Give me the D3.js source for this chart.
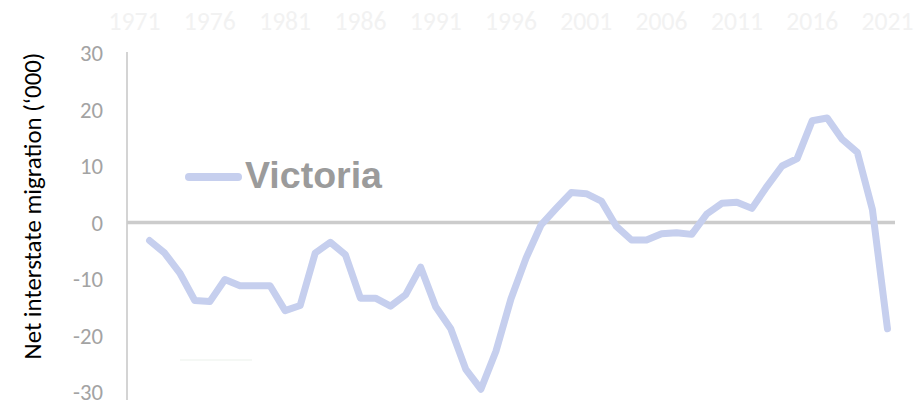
<!DOCTYPE html>
<html>
<head>
<meta charset="utf-8">
<script src="https://cdn.jsdelivr.net/npm/d3@7/dist/d3.min.js"></script>
<style>
  html, body { margin: 0; padding: 0; background: #ffffff; }
  svg { display: block; }
</style>
</head>
<body>
<svg id="chart" width="916" height="406"></svg>
<script>
// ---- data ----
const years = d3.range(1971, 2022).map(String);
const tickYears = ["1971","1976","1981","1986","1991","1996","2001","2006","2011","2016","2021"];
const victoria = [null,
  -3.2, -5.4, -8.9, -13.8, -14.0, -10.1, -11.2, -11.2, -11.2,
  -15.6, -14.7, -5.4, -3.5, -5.7, -13.4, -13.4, -14.8, -12.8, -7.9,
  -14.9, -18.8, -26.0, -29.5, -22.8, -13.5, -6.3, -0.4, 2.5, 5.3,
  5.1, 3.8, -0.7, -3.1, -3.1, -2.0, -1.8, -2.1, 1.5, 3.4,
  3.6, 2.5, 6.4, 10.0, 11.3, 18.0, 18.5, 14.7, 12.4, 2.3,
  -18.8];
const yTicks = [-30, -20, -10, 0, 10, 20, 30];
const seriesName = "Victoria";
const yTitle = "Net interstate migration (\u2018000)";

// ---- layout ----
const svg = d3.select("#chart");
const plotL = 127, plotR = 895, plotT = 53, plotB = 392;
const baseFont = "Carlito, Lato, 'Liberation Sans', Arial, sans-serif";

// scale font size of a text node so it measures the target width
function fitSize(node, target, base) {
  const w = node.getComputedTextLength();
  return w > 0 ? base * target / w : base;
}

const x = d3.scaleBand().domain(years).range([plotL, plotR]);
const y = d3.scaleLinear().domain([-30, 30]).range([plotB, plotT]);

// vertical axis line
svg.append("line")
  .attr("x1", plotL).attr("x2", plotL)
  .attr("y1", plotT - 1).attr("y2", plotB + 8)
  .attr("stroke", "#d4d4d4").attr("stroke-width", 2);

// y tick labels
const yAxis = svg.append("g")
  .attr("transform", `translate(${plotL - 24},0)`)
  .call(d3.axisLeft(y).tickValues(yTicks).tickSize(0).tickPadding(0).tickFormat(d => String(d)));
yAxis.select(".domain").remove();
const yTexts = yAxis.selectAll("text")
  .attr("font-family", baseFont)
  .attr("font-size", 20)
  .attr("fill", "#a3a3a3")
  .attr("dy", "0.35em");
const ref30 = yTexts.filter(d => d === 30).node();
const ySize = fitSize(ref30, 23, 20);
yTexts.attr("font-size", ySize);

// top category axis (very faint)
const xAxis = svg.append("g")
  .attr("transform", `translate(0,30)`)
  .call(d3.axisTop(x).tickValues(tickYears).tickSize(0).tickPadding(0));
xAxis.select(".domain").remove();
const xTexts = xAxis.selectAll("text")
  .attr("font-family", baseFont)
  .attr("font-size", 20)
  .attr("fill", "#f2f2f2")
  .attr("dy", "0");
const xSize = fitSize(xTexts.filter(d => d === "1971").node(), 52, 20);
xTexts.attr("font-size", xSize);

// zero line
svg.append("line")
  .attr("x1", plotL).attr("x2", plotR)
  .attr("y1", y(0)).attr("y2", y(0))
  .attr("stroke", "#cccccc").attr("stroke-width", 3.5);

// series line
const pts = years.map((yr, i) => ({ yr, v: victoria[i] }));
const line = d3.line()
  .defined(d => d.v !== null)
  .x(d => x(d.yr) + x.bandwidth() / 2)
  .y(d => y(d.v));
svg.append("path")
  .datum(pts)
  .attr("d", line)
  .attr("fill", "none")
  .attr("stroke", "#c6cfee")
  .attr("stroke-width", 7)
  .attr("stroke-linejoin", "round")
  .attr("stroke-linecap", "round");

// legend
svg.append("line")
  .attr("x1", 189).attr("x2", 238)
  .attr("y1", 177).attr("y2", 177)
  .attr("stroke", "#c6cfee").attr("stroke-width", 8)
  .attr("stroke-linecap", "round");
const lg = svg.append("text")
  .attr("x", 245).attr("y", 188)
  .attr("font-family", "'Liberation Sans', Arial, sans-serif")
  .attr("font-weight", "bold")
  .attr("font-size", 36)
  .attr("fill", "#9b9b9b")
  .text(seriesName);
lg.attr("font-size", fitSize(lg.node(), 137, 36));

// faint legend artifact
svg.append("line")
  .attr("x1", 180).attr("x2", 252)
  .attr("y1", 360).attr("y2", 360)
  .attr("stroke", "#f5f8f5").attr("stroke-width", 2);

// y title
const yt = svg.append("text")
  .attr("transform", "translate(41,206) rotate(-90)")
  .attr("text-anchor", "middle")
  .attr("font-family", baseFont)
  .attr("font-size", 19)
  .attr("fill", "#000000")
  .text(yTitle);
yt.attr("font-size", fitSize(yt.node(), 307, 19));
</script>
</body>
</html>
